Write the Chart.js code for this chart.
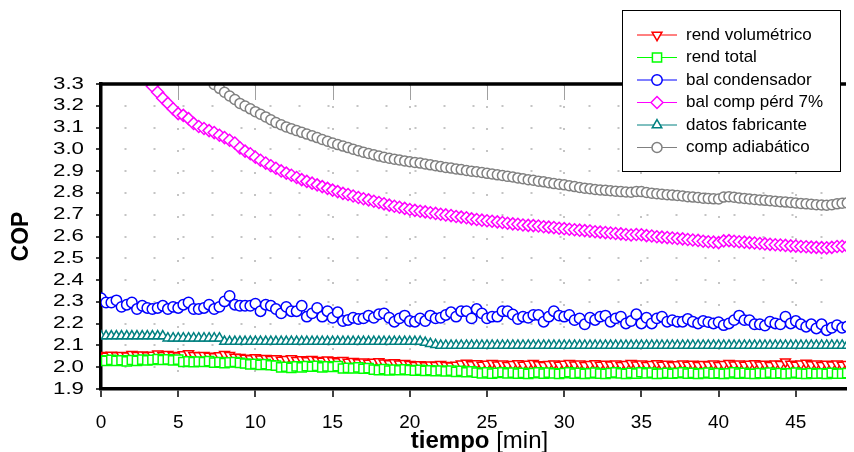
<!DOCTYPE html>
<html>
<head>
<meta charset="utf-8">
<script src="https://cdn.jsdelivr.net/npm/chart.js@4.4.1/dist/chart.umd.min.js"></script>
<style>
  html, body { margin: 0; padding: 0; background: #fff; }
  canvas { display: block; }
</style>
</head>
<body>
<canvas id="chart" width="854" height="452"></canvas>
<script>
// sample times, one reading every 20 s
const TIME = [
  0, 0.33, 0.67, 1, 1.33, 1.67, 2, 2.33, 2.67, 3, 3.33, 3.67,
  4, 4.33, 4.67, 5, 5.33, 5.67, 6, 6.33, 6.67, 7, 7.33, 7.67,
  8, 8.33, 8.67, 9, 9.33, 9.67, 10, 10.33, 10.67, 11, 11.33, 11.67,
  12, 12.33, 12.67, 13, 13.33, 13.67, 14, 14.33, 14.67, 15, 15.33, 15.67,
  16, 16.33, 16.67, 17, 17.33, 17.67, 18, 18.33, 18.67, 19, 19.33, 19.67,
  20, 20.33, 20.67, 21, 21.33, 21.67, 22, 22.33, 22.67, 23, 23.33, 23.67,
  24, 24.33, 24.67, 25, 25.33, 25.67, 26, 26.33, 26.67, 27, 27.33, 27.67,
  28, 28.33, 28.67, 29, 29.33, 29.67, 30, 30.33, 30.67, 31, 31.33, 31.67,
  32, 32.33, 32.67, 33, 33.33, 33.67, 34, 34.33, 34.67, 35, 35.33, 35.67,
  36, 36.33, 36.67, 37, 37.33, 37.67, 38, 38.33, 38.67, 39, 39.33, 39.67,
  40, 40.33, 40.67, 41, 41.33, 41.67, 42, 42.33, 42.67, 43, 43.33, 43.67,
  44, 44.33, 44.67, 45, 45.33, 45.67, 46, 46.33, 46.67, 47, 47.33, 47.67,
  48, 48.33
];

const REND_VOL = [
  2.054, 2.051, 2.056, 2.053, 2.055, 2.052, 2.059, 2.054, 2.057, 2.053,
  2.056, 2.061, 2.055, 2.059, 2.054, 2.052, 2.058, 2.063, 2.055, 2.053,
  2.054, 2.051, 2.049, 2.053, 2.059, 2.054, 2.047, 2.045, 2.042, 2.04,
  2.044, 2.038, 2.041, 2.036, 2.039, 2.033, 2.036, 2.039, 2.032, 2.035,
  2.03, 2.036, 2.032, 2.028, 2.034, 2.03, 2.026, 2.032, 2.024, 2.027,
  2.021, 2.025, 2.019, 2.023, 2.026, 2.02, 2.017, 2.021, 2.015, 2.018,
  2.013, 2.009, 2.012, 2.007, 2.011, 2.008, 2.013, 2.009, 2.006, 2.01,
  2.015, 2.019, 2.012, 2.017, 2.01, 2.014, 2.018, 2.011, 2.015, 2.009,
  2.013, 2.017, 2.01, 2.014, 2.018, 2.012, 2.008, 2.013, 2.016, 2.01,
  2.014, 2.018, 2.011, 2.015, 2.009, 2.013, 2.017, 2.01, 2.014, 2.011,
  2.015, 2.009, 2.013, 2.018, 2.011, 2.015, 2.009, 2.013, 2.017, 2.01,
  2.014, 2.009, 2.012, 2.016, 2.01, 2.014, 2.009, 2.013, 2.011, 2.015,
  2.009, 2.013, 2.018, 2.011, 2.015, 2.01, 2.014, 2.017, 2.011, 2.014,
  2.009, 2.015, 2.013, 2.025, 2.014, 2.01, 2.015, 2.019, 2.012, 2.016,
  2.009, 2.014, 2.011, 2.015, 2.01, 2.013
];

const REND_TOTAL = [
  2.031, 2.029, 2.034, 2.029, 2.032, 2.027, 2.033, 2.029, 2.035, 2.031,
  2.034, 2.037, 2.033, 2.036, 2.031, 2.035, 2.024, 2.027, 2.023, 2.026,
  2.024, 2.028, 2.021, 2.023, 2.019, 2.022, 2.024, 2.02, 2.017, 2.013,
  2.015, 2.011, 2.014, 2.009, 2.007, 1.999, 2.002, 1.997, 2.004, 1.999,
  2.005, 2.002, 2.006, 1.999, 2.004, 2.001, 2.005, 1.994, 1.997, 1.995,
  1.999, 1.993, 1.996, 1.989, 1.987, 1.991, 1.985, 1.989, 1.986, 1.99,
  1.987, 1.984, 1.988, 1.983, 1.986, 1.982, 1.985, 1.981, 1.984, 1.979,
  1.983, 1.977, 1.981, 1.975, 1.972, 1.976, 1.971, 1.974, 1.977, 1.972,
  1.975, 1.971, 1.974, 1.969, 1.973, 1.976, 1.971, 1.975, 1.972, 1.969,
  1.973, 1.977, 1.971, 1.974, 1.969, 1.972, 1.975, 1.971, 1.969, 1.973,
  1.976, 1.972, 1.969, 1.974, 1.971, 1.977, 1.972, 1.975, 1.969, 1.971,
  1.974, 1.97, 1.973, 1.976, 1.971, 1.974, 1.969, 1.972, 1.975, 1.97,
  1.973, 1.969, 1.972, 1.976, 1.971, 1.974, 1.97, 1.969, 1.973, 1.971,
  1.975, 1.97, 1.973, 1.969, 1.972, 1.975, 1.971, 1.969, 1.973, 1.97,
  1.972, 1.969, 1.974, 1.97, 1.971, 1.973
];

const BAL_COND = [
  2.317, 2.297, 2.297, 2.307, 2.277, 2.287, 2.297, 2.267, 2.282, 2.272,
  2.267, 2.272, 2.282, 2.267, 2.277, 2.272, 2.287, 2.297, 2.267, 2.267,
  2.272, 2.287, 2.267, 2.277, 2.302, 2.327, 2.287, 2.282, 2.282, 2.282,
  2.292, 2.257, 2.287, 2.282, 2.267, 2.247, 2.277, 2.257, 2.257, 2.282,
  2.232, 2.247, 2.272, 2.232, 2.257, 2.227, 2.252, 2.212, 2.217, 2.227,
  2.221, 2.224, 2.237, 2.227, 2.243, 2.247, 2.227, 2.209, 2.224, 2.237,
  2.212, 2.209, 2.224, 2.212, 2.237, 2.224, 2.227, 2.24, 2.252, 2.232,
  2.257, 2.257, 2.224, 2.267, 2.247, 2.224, 2.232, 2.232, 2.257, 2.257,
  2.242, 2.221, 2.232, 2.227, 2.24, 2.24, 2.209, 2.232, 2.257, 2.237,
  2.232, 2.24, 2.216, 2.224, 2.197, 2.227, 2.217, 2.232, 2.237, 2.209,
  2.224, 2.232, 2.201, 2.212, 2.243, 2.201, 2.227, 2.201, 2.224, 2.232,
  2.209, 2.216, 2.209, 2.209, 2.221, 2.209, 2.201, 2.212, 2.207, 2.201,
  2.207, 2.193, 2.201, 2.216, 2.237, 2.216, 2.216, 2.197, 2.197, 2.191,
  2.209, 2.201, 2.197, 2.232, 2.201, 2.212, 2.197, 2.186, 2.197, 2.178,
  2.197, 2.17, 2.181, 2.193, 2.181, 2.187
];

const BAL_COMP = [
  null, null, null, null, null, null, null, null, null, null,
  3.29, 3.262, 3.235, 3.211, 3.186, 3.164, 3.156, 3.141, 3.119, 3.105,
  3.096, 3.086, 3.077, 3.065, 3.054, 3.042, 3.029, 3.007, 2.992, 2.98,
  2.964, 2.95, 2.937, 2.925, 2.913, 2.901, 2.891, 2.881, 2.871, 2.861,
  2.853, 2.845, 2.837, 2.829, 2.821, 2.813, 2.806, 2.798, 2.793, 2.786,
  2.779, 2.773, 2.768, 2.762, 2.756, 2.75, 2.744, 2.739, 2.734, 2.729,
  2.724, 2.72, 2.716, 2.713, 2.709, 2.706, 2.702, 2.699, 2.696, 2.692,
  2.689, 2.686, 2.681, 2.678, 2.675, 2.672, 2.67, 2.667, 2.664, 2.661,
  2.658, 2.656, 2.653, 2.651, 2.65, 2.648, 2.645, 2.643, 2.641, 2.638,
  2.636, 2.633, 2.631, 2.629, 2.627, 2.625, 2.622, 2.62, 2.618, 2.616,
  2.614, 2.612, 2.609, 2.607, 2.609, 2.608, 2.604, 2.602, 2.599, 2.597,
  2.595, 2.593, 2.591, 2.589, 2.586, 2.584, 2.582, 2.578, 2.576, 2.574,
  2.572, 2.58, 2.581, 2.578, 2.576, 2.574, 2.572, 2.57, 2.568, 2.566,
  2.564, 2.562, 2.561, 2.559, 2.557, 2.556, 2.554, 2.553, 2.551, 2.55,
  2.549, 2.548, 2.55, 2.554, 2.555, 2.555
];

const DATOS_FAB = [
  2.143, 2.143, 2.143, 2.143, 2.143, 2.143, 2.143, 2.143, 2.143, 2.143,
  2.143, 2.143, 2.143, 2.133, 2.133, 2.133, 2.133, 2.133, 2.133, 2.133,
  2.133, 2.133, 2.133, 2.133, 2.118, 2.118, 2.118, 2.118, 2.118, 2.118,
  2.118, 2.118, 2.118, 2.118, 2.118, 2.118, 2.118, 2.118, 2.118, 2.118,
  2.118, 2.118, 2.118, 2.118, 2.118, 2.118, 2.118, 2.118, 2.118, 2.118,
  2.118, 2.118, 2.118, 2.118, 2.118, 2.118, 2.118, 2.118, 2.118, 2.118,
  2.118, 2.118, 2.118, 2.113, 2.108, 2.103, 2.1, 2.1, 2.1, 2.1,
  2.1, 2.1, 2.1, 2.1, 2.1, 2.1, 2.1, 2.1, 2.1, 2.1,
  2.1, 2.1, 2.1, 2.1, 2.1, 2.1, 2.1, 2.1, 2.1, 2.1,
  2.1, 2.1, 2.1, 2.1, 2.1, 2.1, 2.1, 2.1, 2.1, 2.1,
  2.1, 2.1, 2.1, 2.1, 2.1, 2.1, 2.1, 2.1, 2.1, 2.1,
  2.1, 2.1, 2.1, 2.1, 2.1, 2.1, 2.1, 2.1, 2.1, 2.1,
  2.1, 2.1, 2.1, 2.1, 2.1, 2.1, 2.1, 2.1, 2.1, 2.1,
  2.1, 2.1, 2.1, 2.1, 2.1, 2.1, 2.1, 2.1, 2.1, 2.1,
  2.1, 2.1, 2.1, 2.1, 2.1, 2.1
];

const COMP_ADIAB = [
  null, null, null, null, null, null, null, null, null, null,
  null, null, null, null, null, null, null, null, null, null,
  null, null, 3.298, 3.28, 3.262, 3.245, 3.229, 3.211, 3.199, 3.186,
  3.173, 3.161, 3.149, 3.136, 3.123, 3.113, 3.103, 3.095, 3.086, 3.078,
  3.07, 3.062, 3.054, 3.045, 3.037, 3.029, 3.022, 3.015, 3.008, 3.001,
  2.994, 2.987, 2.981, 2.975, 2.969, 2.964, 2.959, 2.955, 2.951, 2.947,
  2.943, 2.94, 2.937, 2.933, 2.929, 2.925, 2.921, 2.917, 2.914, 2.91,
  2.907, 2.903, 2.9, 2.897, 2.894, 2.89, 2.887, 2.883, 2.88, 2.876,
  2.873, 2.869, 2.865, 2.861, 2.858, 2.854, 2.851, 2.847, 2.843, 2.84,
  2.837, 2.833, 2.829, 2.825, 2.822, 2.819, 2.816, 2.814, 2.812, 2.81,
  2.808, 2.806, 2.804, 2.803, 2.807, 2.806, 2.802, 2.799, 2.796, 2.794,
  2.792, 2.79, 2.788, 2.786, 2.783, 2.781, 2.779, 2.776, 2.775, 2.773,
  2.772, 2.781, 2.783, 2.78, 2.777, 2.775, 2.772, 2.77, 2.768, 2.766,
  2.764, 2.762, 2.76, 2.758, 2.756, 2.754, 2.752, 2.75, 2.748, 2.746,
  2.745, 2.744, 2.746, 2.75, 2.753, 2.754
];

const X_MIN = 0, X_MAX = 48.25, X_STEP = 5;
const Y_MIN = 1.9, Y_MAX = 3.3, Y_STEP = 0.1;

const FONT = "Arial, 'Liberation Sans', sans-serif";

function series(label, data, color, style, radius, order, rotation) {
  return {
    label, data, order,
    borderColor: color,
    borderWidth: 1,
    pointStyle: style,
    pointRadius: radius,
    pointRotation: rotation || 0,
    pointBorderColor: color,
    pointBackgroundColor: '#fff',
    pointBorderWidth: 1.5,
    tension: 0,
    spanGaps: false,
  };
}

// draws what Chart.js has no option for: top frame line, stretched y labels,
// two-weight x title and the legend boxed inside the plot
const decorations = {
  id: 'decorations',
  afterDatasetsDraw(chart) {
    const { ctx, chartArea: a, scales: { x } } = chart;
    ctx.save();
    ctx.strokeStyle = '#a0a0a0';
    ctx.lineWidth = 1;
    x.ticks.forEach(t => {
      if (t.value === 0) return;
      const px = Math.round(x.getPixelForValue(t.value)) + 0.5;
      ctx.beginPath();
      ctx.moveTo(px, a.top);
      ctx.lineTo(px, a.top + 16);
      ctx.stroke();
    });
    ctx.strokeStyle = '#000';
    ctx.lineWidth = 3.5;
    ctx.beginPath();
    ctx.moveTo(a.left - 1.75, a.top);
    ctx.lineTo(a.right, a.top);
    ctx.stroke();
    ctx.restore();
  },
  afterDraw(chart) {
    const { ctx, chartArea: a, scales: { y } } = chart;
    ctx.save();

    // y tick labels
    ctx.fillStyle = '#000';
    ctx.font = `16.5px ${FONT}`;
    ctx.textAlign = 'right';
    ctx.textBaseline = 'middle';
    y.ticks.forEach(t => {
      ctx.save();
      ctx.translate(a.left - 17, y.getPixelForValue(t.value));
      ctx.scale(1.35, 1);
      ctx.fillText(t.value.toFixed(1), 0, 0);
      ctx.restore();
    });

    // x title
    ctx.textAlign = 'left';
    ctx.textBaseline = 'alphabetic';
    ctx.font = `bold 24px ${FONT}`;
    const w1 = ctx.measureText('tiempo ').width;
    ctx.font = `24px ${FONT}`;
    const w2 = ctx.measureText('[min]').width;
    const sx = (a.left + a.right) / 2 + 6 - (w1 + w2) / 2;
    ctx.font = `bold 24px ${FONT}`;
    ctx.fillText('tiempo', sx, 448);
    ctx.font = `24px ${FONT}`;
    ctx.fillText('[min]', sx + w1, 448);

    // legend
    const box = { x: 622.5, y: 10.5, w: 218, h: 161 };
    ctx.fillStyle = '#fff';
    ctx.fillRect(box.x, box.y, box.w, box.h);
    ctx.strokeStyle = '#000';
    ctx.lineWidth = 1;
    ctx.strokeRect(box.x, box.y, box.w, box.h);
    chart.data.datasets.forEach((ds, i) => {
      const yy = 35 + i * 22.5;
      ctx.strokeStyle = ds.borderColor;
      ctx.lineWidth = 1;
      ctx.beginPath();
      ctx.moveTo(637, yy);
      ctx.lineTo(677, yy);
      ctx.stroke();
      ctx.fillStyle = '#fff';
      ctx.lineWidth = ds.pointBorderWidth;
      Chart.helpers.drawPoint(ctx, {
        pointStyle: ds.pointStyle,
        rotation: ds.pointRotation,
        radius: ds.pointRadius,
        borderWidth: ds.pointBorderWidth,
      }, 657, yy);
      ctx.fillStyle = '#000';
      ctx.font = `17px ${FONT}`;
      ctx.textAlign = 'left';
      ctx.textBaseline = 'middle';
      ctx.fillText(ds.label, 686, yy);
    });
    ctx.restore();
  }
};

new Chart(document.getElementById('chart'), {
  type: 'line',
  data: {
    labels: TIME,
    datasets: [
      series('rend volumétrico', REND_VOL, '#ff0000', 'triangle', 5.7, 6, 180),
      series('rend total', REND_TOTAL, '#00ff00', 'rect', 6.5, 5),
      series('bal condensador', BAL_COND, '#0000ff', 'circle', 5.2, 4),
      series('bal comp pérd 7%', BAL_COMP, '#ff00ff', 'rectRot', 6, 3),
      series('datos fabricante', DATOS_FAB, '#008080', 'triangle', 5.5, 2),
      series('comp adiabático', COMP_ADIAB, '#808080', 'circle', 5, 1),
    ],
  },
  options: {
    responsive: false,
    animation: false,
    devicePixelRatio: 1,
    layout: { padding: { top: 84, left: 0, right: 0, bottom: 0 } },
    plugins: {
      legend: { display: false },
      tooltip: { enabled: false },
    },
    scales: {
      x: {
        type: 'linear',
        min: X_MIN,
        max: X_MAX,
        afterFit: s => { s.height = 63; },
        ticks: {
          stepSize: X_STEP,
          includeBounds: false,
          color: '#000',
          padding: 14,
          font: { family: FONT, size: 19 },
          maxRotation: 0,
        },
        grid: {
          color: '#c4c4c4',
          lineWidth: 2,
          tickLength: 8,
          tickColor: '#000',
          tickWidth: 1.5,
        },
        border: { display: true, color: '#000', width: 3.5, dash: [2, 20], dashOffset: 0 },
      },
      y: {
        min: Y_MIN,
        max: Y_MAX,
        afterFit: s => { s.width = 101; },
        ticks: { stepSize: Y_STEP, display: false },
        grid: {
          color: '#c4c4c4',
          lineWidth: 2,
          tickLength: 5,
          tickColor: '#000',
          tickWidth: 1.5,
        },
        border: { display: true, color: '#000', width: 3.5, dash: [2, 27], dashOffset: 7 },
        title: {
          display: true,
          text: 'COP',
          color: '#000',
          font: { family: FONT, size: 23, weight: 'bold' },
          padding: { top: 8, bottom: 0 },
        },
      },
    },
  },
  plugins: [decorations],
});
</script>
</body>
</html>
